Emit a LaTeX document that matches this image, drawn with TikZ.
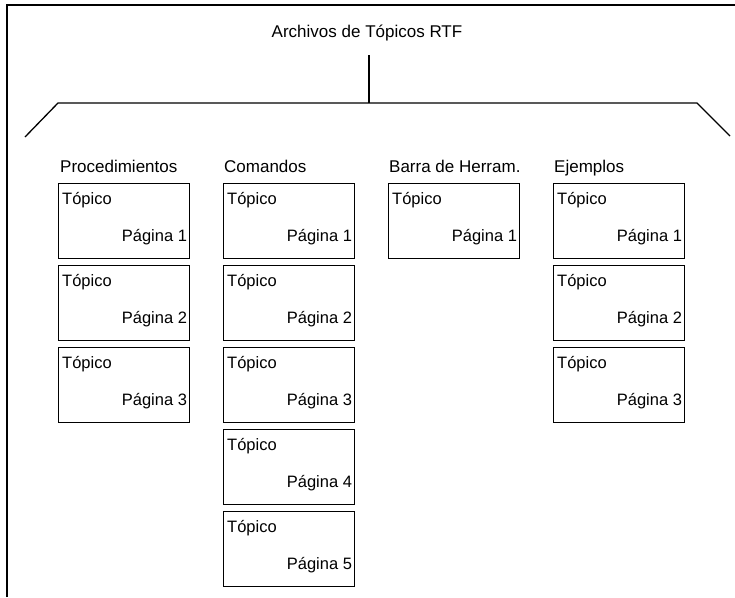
\documentclass[tikz,border=0pt]{standalone}
\usepackage{fontspec}
\setmainfont{Liberation Sans}
\usetikzlibrary{calc}
\begin{document}
\begin{tikzpicture}[x=1pt,y=-1pt,
  rule/.style={line width=1.3pt},
  pagebox/.style={draw, line width=1.2pt, minimum width=131pt, minimum height=75pt,
    inner sep=0pt, anchor=north west},
  headtext/.style={font=\fontsize{17}{20}\selectfont, inner sep=0pt, anchor=base west},
  boxtext/.style={font=\fontsize{16.5}{20}\selectfont, inner sep=0pt}]
\useasboundingbox (0,0) rectangle (735,597);

% outer frame: top and left edges only
\draw[rule] (7,597) -- (7,5) -- (735,5);

% title and the bracket that spreads to the four groups
\node[headtext, anchor=base] (title) at (367,37) {Archivos de Tópicos RTF};
\coordinate (stem) at (369,55);
\coordinate (hub) at (369,103);
\coordinate (bracketL) at (58,103);
\coordinate (bracketR) at (697,103);
\coordinate (tipL) at (25,137);
\coordinate (tipR) at (730,136);
\draw[rule] (stem) -- (hub);
\draw[rule] (tipL) -- (bracketL) -- (bracketR) -- (tipR);

% group headings
\node[headtext] (hproc)  at (60,172)  {Procedimientos};
\node[headtext] (hcom)   at (224,172) {Comandos};
\node[headtext] (hbarra) at (389,172) {Barra de Herram.};
\node[headtext] (hejem)  at (554,172) {Ejemplos};

% topic pages of each group
\foreach \c/\x/\n in {proc/58/3, com/223/5, barra/388/1, ejem/553/3} {
  \foreach \k in {1,...,\n} {
    \node[pagebox] (\c\k) at (\x,{183+82*(\k-1)}) {};
    \node[boxtext, anchor=base west] (\c\k-t) at ($(\c\k.north west)+(4,21)$) {Tópico};
    \node[boxtext, anchor=base east] (\c\k-p) at ($(\c\k.north east)+(-3,58)$) {Página \k};
  }
}
\end{tikzpicture}
\end{document}
